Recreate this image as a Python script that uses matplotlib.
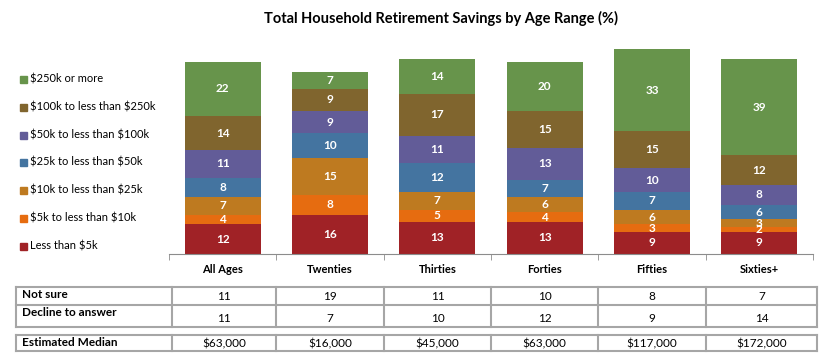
import matplotlib
matplotlib.use("Agg")
import matplotlib.pyplot as plt
from matplotlib.patches import Rectangle
from matplotlib.lines import Line2D

plt.rcParams['font.family'] = ['Lato', 'DejaVu Sans']
plt.rcParams['text.parse_math'] = False

ages = ["All Ages", "Twenties", "Thirties", "Forties", "Fifties", "Sixties+"]
brackets = ["Less than $5k", "$5k to less than $10k", "$10k to less than $25k",
            "$25k to less than $50k", "$50k to less than $100k",
            "$100k to less than $250k", "$250k or more"]
lt5k = [12, 16, 13, 13, 9, 9]
k5_10 = [4, 8, 5, 4, 3, 2]
k10_25 = [7, 15, 7, 6, 6, 3]
k25_50 = [8, 10, 12, 7, 7, 6]
k50_100 = [11, 9, 11, 13, 10, 8]
k100_250 = [14, 9, 17, 15, 15, 12]
k250 = [22, 7, 14, 20, 33, 39]
series = [lt5k, k5_10, k10_25, k25_50, k50_100, k100_250, k250]
colors = ["#A02226", "#E66C10", "#BE7A20", "#4474A0", "#625C98", "#80652E", "#67944B"]

not_sure = [11, 19, 11, 10, 8, 7]
decline = [11, 7, 10, 12, 9, 14]
median = ["$63,000", "$16,000", "$45,000", "$63,000", "$117,000", "$172,000"]

W, H = 823, 363
fig = plt.figure(figsize=(W / 100, H / 100), dpi=100)

def fx(px):
    return px / W

def fy(py):
    return 1 - py / H

# bars
base_px, unit_px, ytop = 254, 2.466, 84
ax = fig.add_axes([fx(169), fy(base_px), fx(813) - fx(169), ytop * unit_px / H])
x = list(range(len(ages)))
bottom = [0] * len(ages)
for vals, c in zip(series, colors):
    ax.bar(x, vals, 0.71, bottom=bottom, color=c, edgecolor="none")
    for i, v in enumerate(vals):
        ax.text(i, bottom[i] + v / 2, str(v), ha="center", va="center",
                color="white", fontsize=8.5, fontweight="bold")
    bottom = [b + v for b, v in zip(bottom, vals)]

ax.set_xlim(-0.5, 5.5)
ax.set_ylim(0, ytop)
for s in ["top", "right", "left"]:
    ax.spines[s].set_visible(False)
ax.spines["bottom"].set_color("#8c8c8c")
ax.set_yticks([])
ax.set_xticks(x)
ax.set_xticklabels(ages, fontsize=8, fontweight="bold")
ax.tick_params(axis="x", which="major", length=0, pad=7)
ax.set_xticks([i - 0.5 for i in range(len(ages) + 1)], minor=True)
ax.tick_params(axis="x", which="minor", length=4, color="#8c8c8c")

fig.text(fx(441), fy(18), "Total Household Retirement Savings by Age Range (%)",
         ha="center", va="center", fontsize=10.5, fontweight="bold")

# legend
leg_y = [246, 218, 190, 162, 135, 107, 79]
for lab, c, yy in zip(brackets, colors, leg_y):
    fig.add_artist(Rectangle((fx(20), fy(yy + 3.5)), fx(7), 7 / H, color=c,
                             transform=fig.transFigure))
    fig.text(fx(30), fy(yy), lab, ha="left", va="center", fontsize=8)

# tables
col_edges = [16, 172, 276, 384, 491, 598, 706, 817]
centers = [(a + b) / 2 for a, b in zip(col_edges[1:-1], col_edges[2:])]
gray = "#a6a6a6"

def hline(y, x0=16, x1=817, lw=1.5, c=gray):
    fig.add_artist(Line2D([fx(x0), fx(x1)], [fy(y), fy(y)], lw=lw, color=c,
                          transform=fig.transFigure))

def vline(xx, y0, y1, lw=1.5, c=gray):
    fig.add_artist(Line2D([fx(xx), fx(xx)], [fy(y0), fy(y1)], lw=lw, color=c,
                          transform=fig.transFigure))

for y in [287, 305, 327, 335, 351]:
    hline(y)
for xx in col_edges:
    vline(xx, 287, 327)
    vline(xx, 335, 351)

fig.text(fx(22), fy(295), "Not sure", fontsize=8.5, fontweight="bold", va="center")
fig.text(fx(22), fy(313), "Decline to answer", fontsize=8.5, fontweight="bold", va="center")
fig.text(fx(22), fy(343), "Estimated Median", fontsize=8.5, fontweight="bold", va="center")
for cx, a, b, m in zip(centers, not_sure, decline, median):
    fig.text(fx(cx), fy(297), str(a), ha="center", va="center", fontsize=8.5)
    fig.text(fx(cx), fy(319), str(b), ha="center", va="center", fontsize=8.5)
    fig.text(fx(cx), fy(344), m, ha="center", va="center", fontsize=8.5)

fig.savefig("out.png", dpi=100)
